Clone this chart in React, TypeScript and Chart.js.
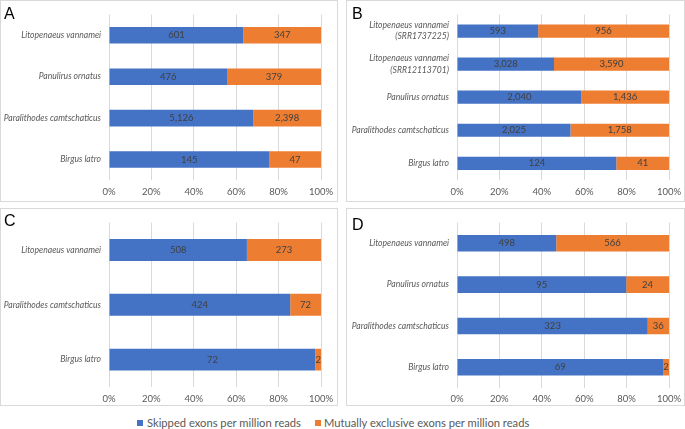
import React, { useEffect, useRef } from "react";
import { Chart, registerables } from "chart.js";
Chart.register(...registerables);

const seriesNames = ["Skipped exons per million reads", "Mutually exclusive exons per million reads"];
const xTickValues = [0, 20, 40, 60, 80, 100];

const catsA = ["Litopenaeus vannamei", "Panulirus ornatus", "Paralithodes camtschaticus", "Birgus latro"];
const skippedA = [601, 476, 5126, 145];
const mxeA = [347, 379, 2398, 47];

const catsB = [
  ["Litopenaeus vannamei", "(SRR1737225)"],
  ["Litopenaeus vannamei", "(SRR12113701)"],
  "Panulirus ornatus",
  "Paralithodes camtschaticus",
  "Birgus latro",
];
const skippedB = [593, 3028, 2040, 2025, 124];
const mxeB = [956, 3590, 1436, 1758, 41];

const catsC = ["Litopenaeus vannamei", "Paralithodes camtschaticus", "Birgus latro"];
const skippedC = [508, 424, 72];
const mxeC = [273, 72, 2];

const catsD = ["Litopenaeus vannamei", "Panulirus ornatus", "Paralithodes camtschaticus", "Birgus latro"];
const skippedD = [498, 95, 323, 69];
const mxeD = [566, 24, 36, 2];

const BLUE = "#4472C4";
const ORANGE = "#ED7D31";
const GRID = "#d9d9d9";
const TEXT = "#595959";
const FONT = "Lato, 'Open Sans', sans-serif";
const EXTRA = 6;

const valueLabels = {
  id: "valueLabels",
  afterDatasetsDraw(chart: any) {
    const ctx = chart.ctx;
    ctx.save();
    ctx.font = `9.5px ${FONT}`;
    ctx.fillStyle = "#404040";
    ctx.textAlign = "center";
    ctx.textBaseline = "middle";
    chart.data.datasets.forEach((ds: any, di: number) => {
      const meta = chart.getDatasetMeta(di);
      meta.data.forEach((el: any, i: number) => {
        const v = ds.rawValues[i];
        const cx = (el.x + el.base) / 2;
        ctx.fillText(v.toLocaleString("en-US"), cx, el.y);
      });
    });
    ctx.restore();
  },
};

type PanelProps = {
  letter: string;
  letterTop: number;
  cats: any[];
  skipped: number[];
  mxe: number[];
  left: number;
  top: number;
  width: number;
  height: number;
  padTop: number;
  padRight: number;
  yWidth: number;
  xHeight: number;
  tickPad: number;
};

function Panel(p: PanelProps) {
  const ref = useRef<HTMLCanvasElement>(null);
  useEffect(() => {
    const canvas = ref.current!;
    const chart = new Chart(canvas, {
      type: "bar",
      data: {
        labels: p.cats,
        datasets: [
          {
            label: seriesNames[0],
            data: p.skipped.map((v, i) => (v / (v + p.mxe[i])) * 100),
            rawValues: p.skipped,
            backgroundColor: BLUE,
            barPercentage: 0.4,
            categoryPercentage: 1,
          } as any,
          {
            label: seriesNames[1],
            data: p.mxe.map((v, i) => (v / (v + p.skipped[i])) * 100),
            rawValues: p.mxe,
            backgroundColor: ORANGE,
            barPercentage: 0.4,
            categoryPercentage: 1,
          } as any,
        ],
      },
      options: {
        indexAxis: "y",
        responsive: false,
        animation: false,
        layout: { padding: { top: p.padTop, right: p.padRight + EXTRA, left: 0, bottom: 0 } },
        plugins: { legend: { display: false }, tooltip: { enabled: false } },
        scales: {
          x: {
            stacked: true,
            min: 0,
            max: 100,
            afterBuildTicks: (s: any) => {
              s.ticks = xTickValues.map((v) => ({ value: v }));
            },
            ticks: {
              callback: (v: any) => v + "%",
              color: TEXT,
              font: { family: FONT, size: 9.5 },
              padding: p.tickPad,
              maxRotation: 0,
            },
            grid: { color: GRID, drawTicks: false },
            border: { display: false },
            afterFit: (s: any) => {
              s.height = p.xHeight;
            },
          },
          y: {
            stacked: true,
            ticks: {
              color: TEXT,
              font: { family: FONT, size: 8.6, style: "italic", lineHeight: 1.3 },
              padding: 8,
            },
            grid: { display: false, drawTicks: false },
            border: { display: false },
            afterFit: (s: any) => {
              s.width = p.yWidth;
            },
          },
        },
      } as any,
      plugins: [valueLabels],
    });
    return () => chart.destroy();
  }, []);
  return (
    <div
      style={{
        position: "absolute",
        left: p.left,
        top: p.top,
        width: p.width,
        height: p.height,
        border: `1px solid ${GRID}`,
        boxSizing: "border-box",
        background: "#fff",
      }}
    >
      <canvas
        ref={ref}
        width={p.width - 2 + EXTRA}
        height={p.height - 2}
        style={{ position: "absolute", left: 0, top: 0, display: "block" }}
      />
      <div
        style={{
          position: "absolute",
          left: p.letter === "B" || p.letter === "D" ? 5 : 3,
          top: p.letterTop,
          fontFamily: "'Liberation Sans', Arial, sans-serif",
          fontSize: 16,
          lineHeight: "16px",
          color: "#000",
        }}
      >
        {p.letter}
      </div>
    </div>
  );
}

export default function App() {
  return (
    <div
      style={{
        position: "fixed",
        left: 0,
        top: 0,
        width: 685,
        height: 429,
        background: "#fff",
        overflow: "hidden",
      }}
    >
      <Panel letter="A" letterTop={5} cats={catsA} skipped={skippedA} mxe={mxeA}
        left={0} top={0} width={338} height={202}
        padTop={5.25} padRight={16} yWidth={108} xHeight={20.75} tickPad={6} />
      <Panel letter="B" letterTop={5} cats={catsB} skipped={skippedB} mxe={mxeB}
        left={346} top={0} width={339} height={202}
        padTop={5.7} padRight={15} yWidth={110} xHeight={21.2} tickPad={6} />
      <Panel letter="C" letterTop={4} cats={catsC} skipped={skippedC} mxe={mxeC}
        left={0} top={208} width={338} height={198}
        padTop={5.4} padRight={16} yWidth={108} xHeight={18} tickPad={6} />
      <Panel letter="D" letterTop={8} cats={catsD} skipped={skippedD} mxe={mxeD}
        left={346} top={208} width={339} height={198}
        padTop={5.5} padRight={15} yWidth={110} xHeight={17} tickPad={5} />
      <div
        style={{
          position: "absolute",
          left: 137,
          top: 416,
          display: "flex",
          alignItems: "center",
          fontFamily: FONT,
          fontSize: 11.2,
          lineHeight: "14px",
          color: TEXT,
          whiteSpace: "nowrap",
        }}
      >
        <span style={{ width: 6, height: 6, background: BLUE, display: "inline-block", marginRight: 4 }} />
        <span>{seriesNames[0]}</span>
        <span style={{ width: 6, height: 6, background: ORANGE, display: "inline-block", marginLeft: 14, marginRight: 3 }} />
        <span>{seriesNames[1]}</span>
      </div>
    </div>
  );
}
